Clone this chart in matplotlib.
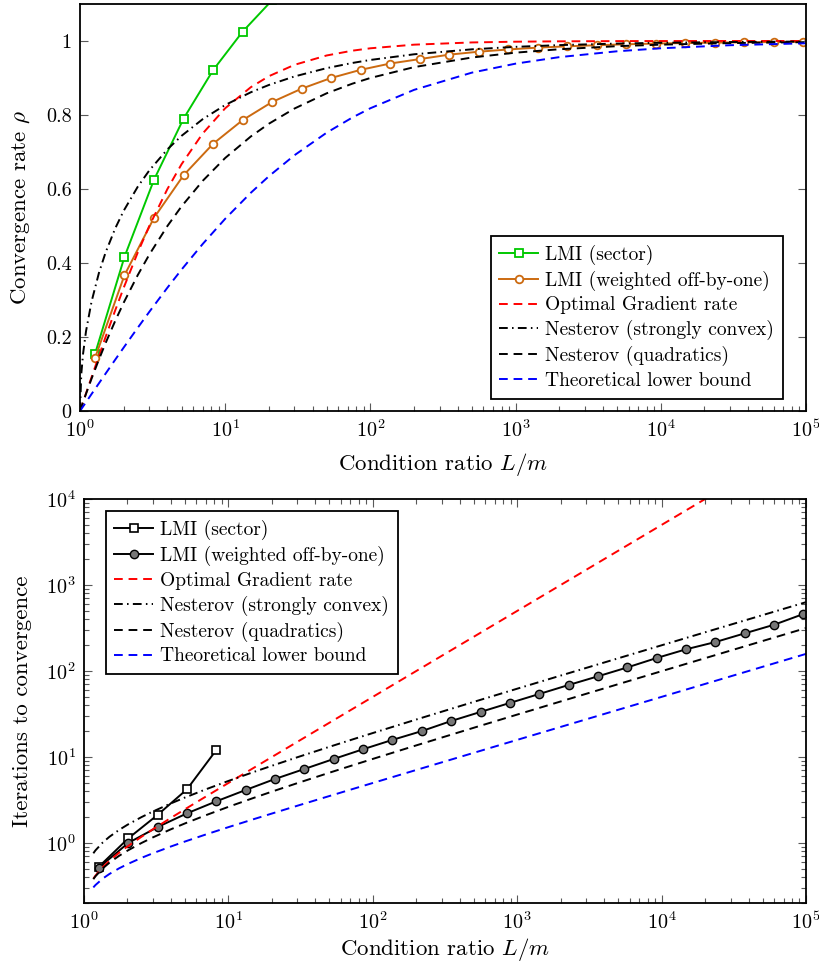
#!/usr/bin/env python
# -*- coding: utf-8 -*-

"""
Convergence rate / iterations vs condition ratio (two panels)
"""

import matplotlib
matplotlib.use("Agg")
import matplotlib.pyplot as plt
import matplotlib.ticker as mticker

# ---- data ----
# condition ratio samples for the analytic-looking curves (top panel)
kappa_top = [1, 1.02, 1.05, 1.1, 1.2, 1.35, 1.5, 1.75, 2, 2.5, 3, 4, 5, 7, 10,
             15, 20, 30, 50, 75, 100, 200, 500, 1000, 2000, 5000, 1e4, 3e4, 1e5]

rho_gradient = [0, 0.0099, 0.0244, 0.0476, 0.0909, 0.1489, 0.2, 0.2727, 0.3333,
                0.4286, 0.5, 0.6, 0.6667, 0.75, 0.8182, 0.875, 0.9048, 0.9355,
                0.9608, 0.9737, 0.9802, 0.990, 0.996, 0.998, 0.999, 0.9996,
                0.9998, 0.99993, 0.99998]
rho_nest_sc = [0, 0.0993, 0.1552, 0.2157, 0.2952, 0.3733, 0.4284, 0.4940, 0.5412,
               0.6063, 0.6501, 0.7071, 0.7435, 0.7887, 0.8269, 0.8613, 0.8811,
               0.9041, 0.9266, 0.9405, 0.9487, 0.9640, 0.9774, 0.9841, 0.9888,
               0.9929, 0.9950, 0.9971, 0.9984]
rho_nest_quad = [0, 0.0099, 0.0241, 0.0465, 0.0871, 0.1393, 0.1835, 0.2441, 0.2929,
                 0.3675, 0.4226, 0.5, 0.5528, 0.6220, 0.6838, 0.7418, 0.7764,
                 0.8174, 0.8586, 0.8845, 0.9, 0.9293, 0.9553, 0.9684, 0.9776,
                 0.9859, 0.99, 0.9942, 0.9968]
rho_lower = [0, 0.0050, 0.0122, 0.0238, 0.0456, 0.0749, 0.1010, 0.1390, 0.1716,
             0.2251, 0.2679, 0.3333, 0.3820, 0.4514, 0.5195, 0.5896, 0.6345,
             0.6912, 0.7522, 0.7930, 0.8182, 0.8679, 0.9144, 0.9387, 0.9563,
             0.9721, 0.9802, 0.9885, 0.9937]

# condition ratio samples for the curves in the bottom panel
kappa_bot = [1.16, 1.2, 1.35, 1.5, 1.75, 2, 2.5, 3, 4, 5, 7, 10, 15, 20, 30, 50,
             75, 100, 200, 500, 1000, 2000, 5000, 1e4, 3e4, 1e5]

it_gradient = [0.384, 0.417, 0.525, 0.621, 0.770, 0.910, 1.180, 1.443, 1.958,
               2.466, 3.476, 4.983, 7.489, 9.992, 14.99, 25.0, 37.5, 50.0, 100,
               250, 500, 1000, 2500, 5000, 15000, 50000]
it_nest_sc = [0.758, 0.820, 1.015, 1.180, 1.418, 1.629, 1.998, 2.322, 2.885,
              3.374, 4.213, 5.261, 6.697, 7.902, 9.922, 13.12, 16.30, 18.98,
              27.27, 43.71, 62.24, 88.43, 140.4, 199.0, 345.4, 631.5]
it_nest_quad = [0.379, 0.410, 0.507, 0.590, 0.709, 0.814, 0.999, 1.161, 1.443,
                1.687, 2.106, 2.631, 3.348, 3.951, 4.961, 6.558, 8.150, 9.491,
                13.64, 21.86, 31.12, 44.22, 70.21, 99.50, 172.7, 315.7]
it_lower = [0.304, 0.324, 0.386, 0.436, 0.507, 0.567, 0.671, 0.759, 0.910,
            1.039, 1.257, 1.527, 1.893, 2.198, 2.708, 3.512, 4.311, 4.983,
            7.060, 11.17, 15.81, 22.36, 35.36, 50.0, 86.6, 158.1]

# LMI solutions (markers)
kappa_lmi = [1.268, 2.024, 3.233, 5.164, 8.247, 13.17, 21.03, 33.59, 53.64, 85.66,
             136.8, 218.5, 348.9, 557.2, 889.8, 1421, 2269, 3624, 5787, 9242,
             14760, 23570, 37640, 60110, 95980]
rho_sector = [0.154, 0.4165, 0.625, 0.790, 0.921, 1.025, 1.11]
rho_weighted = [0.143, 0.367, 0.522, 0.637, 0.722, 0.786, 0.835, 0.871, 0.900,
                0.922, 0.939, 0.951, 0.963, 0.971, 0.977, 0.982, 0.9855, 0.9885,
                0.991, 0.993, 0.9944, 0.9954, 0.9964, 0.9971, 0.9978]
it_sector = [0.53, 1.13, 2.12, 4.21, 12.06]
it_weighted = [0.516, 1.0, 1.53, 2.21, 3.05, 4.13, 5.55, 7.25, 9.48, 12.3, 15.8,
               20.0, 26.2, 33.4, 42.5, 54.0, 68.7, 86.7, 110, 141.6, 178.7, 217,
               274, 345, 460]

labels = ["LMI (sector)", "LMI (weighted off-by-one)", "Optimal Gradient rate",
          "Nesterov (strongly convex)", "Nesterov (quadratics)",
          "Theoretical lower bound"]

# ---- style ----
plt.rcParams["font.family"] = "serif"
plt.rcParams["font.serif"] = ["cmr10"]
plt.rcParams["mathtext.fontset"] = "cm"
plt.rcParams["axes.formatter.use_mathtext"] = True
plt.rcParams["font.size"] = 14

GREEN = "#00c800"
ORANGE = "#cc6a10"
LW = 1.4
DASH = (4.5, 3)
DASHDOT = (4.5, 2.2, 0.8, 2.2)
LABEL_FS = 16.5
TICK_FS = 14.5


def style_axes(ax, top_ticks=True):
    """pgfplots-like frame and ticks"""
    for sp in ax.spines.values():
        sp.set_linewidth(1.3)
    ax.set_xscale("log")
    ax.set_xlim(1, 1e5)
    ax.xaxis.set_major_locator(mticker.LogLocator(base=10, numticks=10))
    ax.xaxis.set_minor_locator(mticker.LogLocator(base=10, subs=range(2, 10), numticks=20))
    ax.xaxis.set_minor_formatter(mticker.NullFormatter())
    ax.tick_params(which="both", direction="in", top=top_ticks, right=True,
                   color="0.35", width=0.8, pad=6, labelsize=TICK_FS)
    ax.tick_params(which="major", length=6)
    ax.tick_params(which="minor", length=3.5)


def add_legend(ax, loc, anchor):
    leg = ax.legend(loc=loc, bbox_to_anchor=anchor, fancybox=False,
                    edgecolor="black", framealpha=1, fontsize=14,
                    handlelength=2.0, handletextpad=0.35, labelspacing=0.3,
                    borderpad=0.45, borderaxespad=0, numpoints=1)
    leg.get_frame().set_linewidth(1.3)


fig = plt.figure(figsize=(8.19, 9.65), dpi=100)

# ---- top panel: convergence rate ----
ax1 = fig.add_axes([0.0977, 0.5741, 0.8864, 0.4218])
ax1.plot(kappa_lmi[:len(rho_sector)], rho_sector, color=GREEN, lw=LW, marker="s",
         ms=5.5, mfc="white", mec=GREEN, mew=1.3, label=labels[0])
ax1.plot(kappa_lmi, rho_weighted, color=ORANGE, lw=LW, marker="o", ms=5.5,
         mfc="white", mec=ORANGE, mew=1.3, label=labels[1])
ax1.plot(kappa_top, rho_gradient, color="red", lw=LW, dashes=DASH, label=labels[2])
ax1.plot(kappa_top, rho_nest_sc, color="black", lw=LW, dashes=DASHDOT, label=labels[3])
ax1.plot(kappa_top, rho_nest_quad, color="black", lw=LW, dashes=DASH, label=labels[4])
ax1.plot(kappa_top, rho_lower, color="blue", lw=LW, dashes=DASH, label=labels[5])
style_axes(ax1, top_ticks=False)
ax1.set_ylim(0, 1.1)
ax1.set_yticks([0, 0.2, 0.4, 0.6, 0.8, 1.0])
ax1.set_yticklabels(["0", "0.2", "0.4", "0.6", "0.8", "1"])
ax1.set_xlabel(r"Condition ratio $L/m$", fontsize=LABEL_FS, labelpad=7)
ax1.set_ylabel(r"Convergence rate $\rho$", fontsize=LABEL_FS, labelpad=10)
add_legend(ax1, "lower right", (0.968, 0.03))

# ---- bottom panel: iterations to convergence ----
ax2 = fig.add_axes([0.1026, 0.0642, 0.8816, 0.4187])
ax2.plot(kappa_lmi[:len(it_sector)], it_sector, color="black", lw=LW, marker="s",
         ms=6, mfc="white", mec="black", mew=1.2, label=labels[0])
ax2.plot(kappa_lmi, it_weighted, color="black", lw=LW, marker="o", ms=6,
         mfc="#777777", mec="black", mew=1.0, label=labels[1])
ax2.plot(kappa_bot, it_gradient, color="red", lw=LW, dashes=DASH, label=labels[2])
ax2.plot(kappa_bot, it_nest_sc, color="black", lw=LW, dashes=DASHDOT, label=labels[3])
ax2.plot(kappa_bot, it_nest_quad, color="black", lw=LW, dashes=DASH, label=labels[4])
ax2.plot(kappa_bot, it_lower, color="blue", lw=LW, dashes=DASH, label=labels[5])
style_axes(ax2, top_ticks=True)
ax2.set_yscale("log")
ax2.set_ylim(0.2, 1e4)
ax2.yaxis.set_major_locator(mticker.LogLocator(base=10, numticks=10))
ax2.yaxis.set_minor_locator(mticker.LogLocator(base=10, subs=range(2, 10), numticks=20))
ax2.yaxis.set_minor_formatter(mticker.NullFormatter())
ax2.tick_params(which="both", direction="in", top=True, right=True)
ax2.set_xlabel(r"Condition ratio $L/m$", fontsize=LABEL_FS, labelpad=2)
ax2.set_ylabel("Iterations to convergence", fontsize=LABEL_FS, labelpad=10)
add_legend(ax2, "upper left", (0.03, 0.97))

fig.savefig("out.png", dpi=100)
plt.close(fig)
